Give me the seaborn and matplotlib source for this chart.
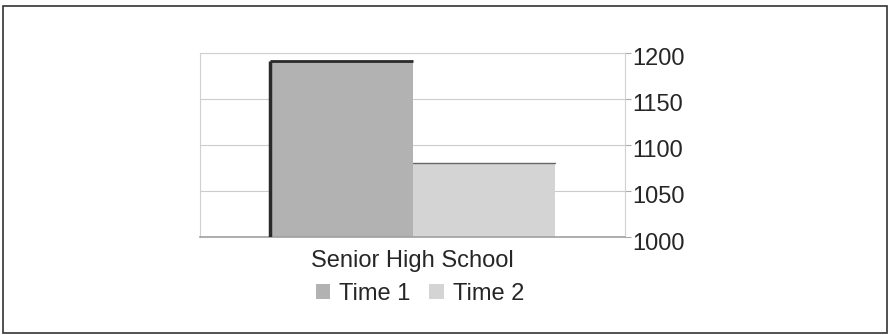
import matplotlib
matplotlib.use("Agg")
import matplotlib.pyplot as plt
import matplotlib.transforms as mtransforms
import seaborn as sns
import pandas as pd
from matplotlib.patches import Rectangle

categories = ["Senior High School"]
series = ["Time 1", "Time 2"]
values = [1191, 1080]
yticks = [1000, 1050, 1100, 1150, 1200]
colors = ["#b2b2b2", "#d4d4d4"]

sns.set_theme(style="white")
plt.rcParams["font.family"] = ["Liberation Sans", "DejaVu Sans"]

df = pd.DataFrame({
    "group": [categories[0]] * len(series),
    "series": series,
    "score": values,
})

W, H = 890, 335
fig = plt.figure(figsize=(W / 100, H / 100), dpi=100)
fig.patch.set_facecolor("white")

# outer frame
fig.add_artist(Rectangle((3 / W, 2 / H), 884 / W, 327 / H, transform=fig.transFigure,
                         fill=False, edgecolor="#333333", linewidth=1.2))

ax = fig.add_axes([200 / W, (H - 237) / H, 425 / W, 184.5 / H])
sns.barplot(data=df, x="group", y="score", hue="series", palette=colors,
            width=0.672, saturation=1, ax=ax, legend=False, linewidth=0)

ax.set_ylim(yticks[0], yticks[-1])
ax.set_xlim(-0.5, 0.5)
ax.set_yticks(yticks)
ax.yaxis.tick_right()
ax.tick_params(axis="y", which="major", direction="out", length=4, width=0.8,
               color="#aaaaaa", labelsize=17, pad=1, right=True, left=False)
ax.tick_params(axis="x", length=0, labelsize=17, pad=9)
# tick labels sit a little below their gridlines
shift = mtransforms.ScaledTranslation(0, -4 / 100, fig.dpi_scale_trans)
for lab in ax.get_yticklabels():
    lab.set_transform(lab.get_transform() + shift)
ax.set_xlabel("")
ax.set_ylabel("")
ax.grid(axis="y", color="#cccccc", linewidth=0.8)
ax.set_axisbelow(True)
for side in ["left", "top", "right"]:
    ax.spines[side].set_color("#d0d0d0")
    ax.spines[side].set_linewidth(0.8)
ax.spines["bottom"].set_color("#a0a0a0")
ax.spines["bottom"].set_linewidth(1.2)

# shaded edges on the bars
bars = [p for p in ax.patches if p.get_height() > 0][:len(values)]
b0 = bars[0]
x0, w0, top0 = b0.get_x(), b0.get_width(), b0.get_height()
ax.plot([x0, x0], [yticks[0], top0], color="#2a2a2a", linewidth=2.5, solid_capstyle="butt", zorder=4)
ax.plot([x0, x0 + w0], [top0, top0], color="#2a2a2a", linewidth=2, solid_capstyle="butt", zorder=4)
b1 = bars[1]
ax.plot([b1.get_x(), b1.get_x() + b1.get_width()], [b1.get_height()] * 2,
        color="#666666", linewidth=1, zorder=4)

handles = [Rectangle((0, 0), 1, 1, facecolor=c, edgecolor="none") for c in colors]
fig.legend(handles, series, loc="center", bbox_to_anchor=(420 / W, 1 - 294 / H),
           ncol=2, frameon=False, fontsize=17, handlelength=0.6, handleheight=0.6,
           handletextpad=0.4, columnspacing=0.8, borderaxespad=0, borderpad=0)

fig.savefig("out.png", dpi=100)
